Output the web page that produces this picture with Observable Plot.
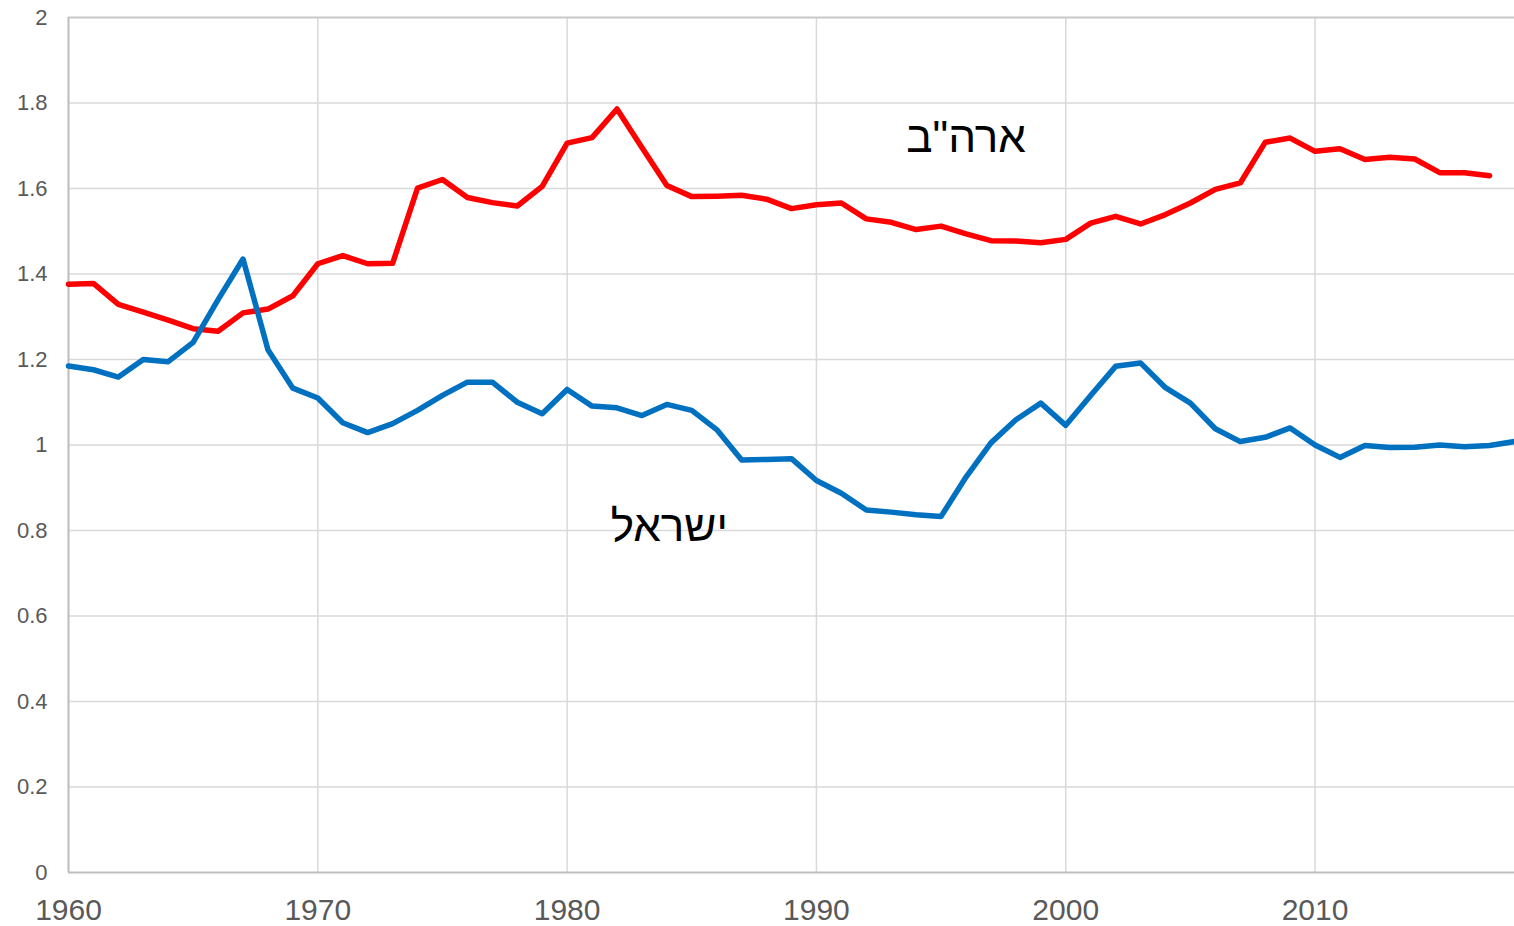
<!DOCTYPE html>
<html>
<head>
<meta charset="utf-8">
<script src="https://cdn.jsdelivr.net/npm/d3@7"></script>
<script src="https://cdn.jsdelivr.net/npm/@observablehq/plot@0.6"></script>
<style>
  html, body { margin: 0; padding: 0; background: #fff; }
  #chart svg { display: block; }
</style>
</head>
<body>
<div id="chart"></div>
<script>
const yearsUSA = d3.range(1960, 2018);
const yearsIsrael = d3.range(1960, 2019);

const usa = [
  1.376, 1.378, 1.329, 1.311, 1.292, 1.272, 1.266, 1.309, 1.318, 1.349,
  1.424, 1.443, 1.424, 1.425, 1.601, 1.621, 1.579, 1.567, 1.559, 1.605,
  1.706, 1.719, 1.786, 1.696, 1.607, 1.581, 1.582, 1.584, 1.575, 1.553,
  1.562, 1.566, 1.529, 1.521, 1.504, 1.512, 1.494, 1.478, 1.477, 1.473,
  1.481, 1.519, 1.535, 1.517, 1.539, 1.566, 1.598, 1.613, 1.708, 1.718,
  1.687, 1.693, 1.668, 1.673, 1.669, 1.637, 1.637, 1.630
];

const israel = [
  1.185, 1.176, 1.159, 1.200, 1.195, 1.240, 1.340, 1.435, 1.223, 1.133,
  1.110, 1.052, 1.029, 1.050, 1.081, 1.116, 1.147, 1.147, 1.100, 1.073,
  1.130, 1.091, 1.087, 1.069, 1.095, 1.081, 1.036, 0.965, 0.966, 0.968,
  0.917, 0.887, 0.848, 0.843, 0.837, 0.833, 0.925, 1.005, 1.059, 1.098,
  1.046, 1.116, 1.184, 1.192, 1.134, 1.098, 1.038, 1.008, 1.018, 1.040,
  1.000, 0.971, 0.999, 0.994, 0.995, 1.000, 0.996, 0.999, 1.008
];

const xTicks = [1960, 1970, 1980, 1990, 2000, 2010];
const yTicks = [0, 0.2, 0.4, 0.6, 0.8, 1, 1.2, 1.4, 1.6, 1.8, 2];
const yTickLabels = ["0", "0.2", "0.4", "0.6", "0.8", "1", "1.2", "1.4", "1.6", "1.8", "2"];

const seriesNames = ["ארה\"ב", "ישראל"];
const seriesColors = ["#ff0000", "#0070c0"];
const labelYears = [1996, 1984.1];
const labelValues = [1.686, 0.775];

const usaRows = yearsUSA.map((year, i) => ({year, value: usa[i]}));
const israelRows = yearsIsrael.map((year, i) => ({year, value: israel[i]}));
const labelRows = seriesNames.map((name, i) => ({name, year: labelYears[i], value: labelValues[i]}));

const font = "'Liberation Sans', Arial, sans-serif";

const chart = Plot.plot({
  width: 1514,
  height: 926,
  marginTop: 17,
  marginBottom: 54,
  marginLeft: 68,
  marginRight: 0,
  style: {fontFamily: font, color: "#595959", background: "#fff", overflow: "visible"},
  x: {domain: [1960, 2018]},
  y: {domain: [0, 2]},
  marks: [
    Plot.gridX(xTicks, {stroke: "#d9d9d9", strokeOpacity: 1, strokeWidth: 1.5}),
    Plot.gridY(yTicks.slice(1, -1), {stroke: "#d9d9d9", strokeOpacity: 1, strokeWidth: 1.5}),
    Plot.ruleY([2], {stroke: "#c8c8c8", strokeWidth: 2}),
    Plot.ruleY([0], {stroke: "#bfbfbf", strokeWidth: 2}),
    Plot.ruleX([1960], {stroke: "#bfbfbf", strokeWidth: 2}),
    Plot.axisX(xTicks, {tickSize: 0, tickPadding: 26, fontSize: 30, tickFormat: d => String(d), label: null}),
    Plot.axisY(yTicks, {tickSize: 0, tickPadding: 21, fontSize: 22, tickFormat: (d, i) => yTickLabels[i], label: null}),
    Plot.line(usaRows, {x: "year", y: "value", stroke: seriesColors[0], strokeWidth: 5.5, strokeLinejoin: "round", strokeLinecap: "round"}),
    Plot.line(israelRows, {x: "year", y: "value", stroke: seriesColors[1], strokeWidth: 5.5, strokeLinejoin: "round", strokeLinecap: "round"}),
    Plot.text(labelRows, {x: "year", y: "value", text: "name", fontSize: 44, fontFamily: font, fill: "#000", textAnchor: "middle", lineAnchor: "bottom"})
  ]
});

document.getElementById("chart").appendChild(chart);
</script>
</body>
</html>
